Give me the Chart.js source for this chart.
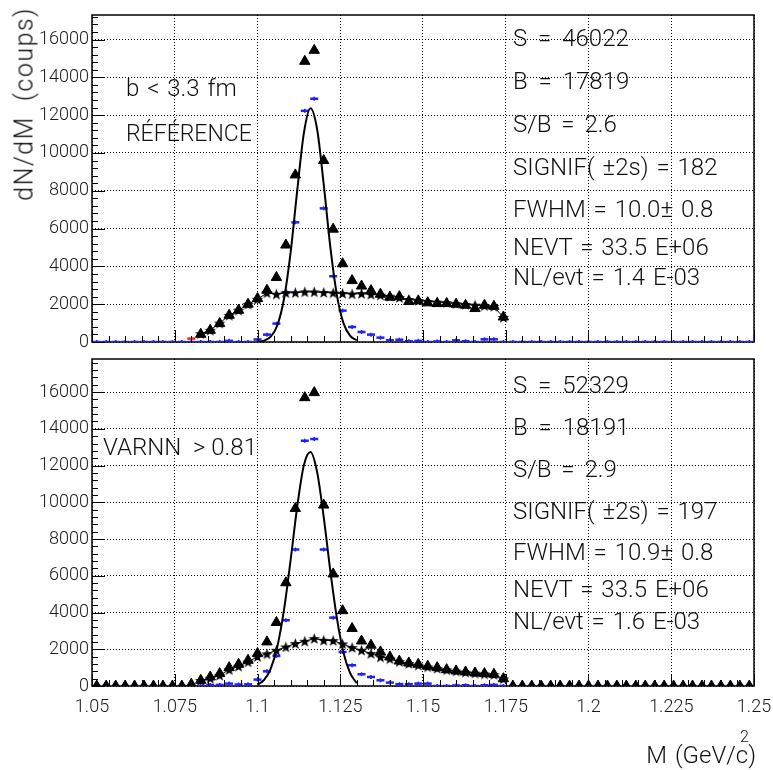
<!DOCTYPE html>
<html>
<head>
<meta charset="utf-8">
<script src="https://cdn.jsdelivr.net/npm/chart.js@4.4.1/dist/chart.umd.min.js"></script>
<style>
  body { margin: 0; background: #fff; }
  #fig { position: relative; width: 773px; height: 770px; overflow: hidden;
         font-family: Roboto, 'Liberation Sans', sans-serif; font-weight: 300; color: #111; }
  canvas { position: absolute; left: 0; }
  #c1 { top: 0; }
  #c2 { top: 352px; }
  .t { position: absolute; font-size: 24px; line-height: 24px; white-space: pre; word-spacing: 2px; }
  #ytitre { position: absolute; left: 24px; top: 104px; font-size: 25px; line-height: 25px;
            letter-spacing: 1.5px; white-space: pre; transform: translate(-50%, -50%) rotate(-90deg); }
</style>
</head>
<body>
<div id="fig">
  <canvas id="c1" width="773" height="352"></canvas>
  <canvas id="c2" width="773" height="418"></canvas>

  <div id="ytitre">dN/dM  (coups)</div>

  <div class="t" style="left:126px; top:76px">b &lt; 3.3 fm</div>
  <div class="t" style="left:126px; top:122px; font-size:23px">RÉFÉRENCE</div>
  <div class="t" style="left:513px; top:26px; word-spacing:5px">S = 46022</div>
  <div class="t" style="left:513px; top:69px; word-spacing:5px">B = 17819</div>
  <div class="t" style="left:513px; top:112px; word-spacing:4px">S/B = 2.6</div>
  <div class="t" style="left:513px; top:155px">SIGNIF( ±2s) = 182</div>
  <div class="t" style="left:513px; top:197px">FWHM = 10.0± 0.8</div>
  <div class="t" style="left:513px; top:235px">NEVT = 33.5 E+06</div>
  <div class="t" style="left:513px; top:265px">NL/evt = 1.4 E-03</div>

  <div class="t" style="left:103px; top:435px; word-spacing:0">VARNN  &gt; 0.81</div>
  <div class="t" style="left:513px; top:373px; word-spacing:5px">S = 52329</div>
  <div class="t" style="left:513px; top:415px; word-spacing:5px">B = 18191</div>
  <div class="t" style="left:513px; top:457px; word-spacing:4px">S/B = 2.9</div>
  <div class="t" style="left:513px; top:499px">SIGNIF( ±2s) = 197</div>
  <div class="t" style="left:513px; top:540px">FWHM = 10.9± 0.8</div>
  <div class="t" style="left:513px; top:577px">NEVT = 33.5 E+06</div>
  <div class="t" style="left:513px; top:609px">NL/evt = 1.6 E-03</div>

  <div class="t" style="right:17px; top:743px">M (GeV/c)</div>
  <div class="t" style="left:740px; top:729px; font-size:16px; line-height:16px">2</div>
</div>

<script>
// binning of the histograms: 70 bins between 1.05 and 1.25 GeV/c2
const xMin = 1.05, xMax = 1.25, nBins = 70;
const binWidth = (xMax - xMin) / nBins;
const binCentres = Array.from({length: nBins}, (_, i) => xMin + (i + 0.5) * binWidth);

const _ = null;

// panneau du haut (référence, b < 3.3 fm)
const totalHaut = [
  _, _, _, _, _, _, _, _, _, _,
  _, 410, 620, 975, 1415, 1680, 2000, 2300, 2740, 3415,
  5130, 8840, 14850, 15430, 9600, 5970, 4140, 3250, 2960, 2720,
  2530, 2370, 2400, 2140, 2175, 2070, 2035, 2035, 2000, 1945,
  1770, 1945, 1890, 1325, _, _, _, _, _, _,
  _, _, _, _, _, _, _, _, _, _,
  _, _, _, _, _, _, _, _, _, _
];
const fondHaut = [
  _, _, _, _, _, _, _, _, _, _,
  _, 440, 620, 1000, 1410, 1680, 2000, 2260, 2600, 2530,
  2600, 2610, 2650, 2650, 2620, 2600, 2570, 2540, 2560, 2520,
  2480, 2420, 2350, 2250, 2200, 2150, 2110, 2080, 2030, 1990,
  1950, 1920, 1880, 1300, _, _, _, _, _, _,
  _, _, _, _, _, _, _, _, _, _,
  _, _, _, _, _, _, _, _, _, _
];
const signalHaut = [
  0, 0, 0, 0, 0, 0, 0, 0, 0, 0,
  0, 0, 0, 0, 60, 0, 0, 130, 390, 975,
  2635, 6330, 12230, 12870, 7070, 3480, 1660, 795, 530, 390,
  230, 90, 120, 40, 60, 0, 30, 0, 90, 40,
  0, 140, 140, 0, 0, 0, 0, 0, 0, 0,
  0, 0, 0, 0, 0, 0, 0, 0, 0, 0,
  0, 0, 0, 0, 0, 0, 0, 0, 0, 0
];
const rougeHaut = [
  _, _, _, _, _, _, _, _, _, _,
  180, _, _, _, _, _, _, _, _, _,
  _, _, _, _, _, _, _, _, _, _,
  _, _, _, _, _, _, _, _, _, _,
  _, _, _, _, _, _, _, _, _, _,
  _, _, _, _, _, _, _, _, _, _,
  _, _, _, _, _, _, _, _, _, _
];

// panneau du bas (VARNN > 0.81)
const totalBas = [
  0, 0, 0, 0, 0, 0, 0, 0, 0, 0,
  100, 310, 490, 675, 1000, 1180, 1400, 1765, 2400, 3460,
  5620, 9665, 15695, 15970, 9850, 6100, 4100, 3130, 2450, 2220,
  1855, 1580, 1360, 1255, 1180, 1075, 1000, 890, 820, 765,
  710, 675, 640, 400, 0, 0, 0, 0, 0, 0,
  0, 0, 0, 0, 0, 0, 0, 0, 0, 0,
  0, 0, 0, 0, 0, 0, 0, 0, 0, 0
];
const fondBas = [
  _, _, _, _, _, _, _, _, _, _,
  _, 300, 420, 585, 890, 1075, 1310, 1600, 1750, 1945,
  2125, 2310, 2435, 2580, 2490, 2470, 2290, 2090, 1945, 1765,
  1580, 1480, 1330, 1220, 1130, 1040, 960, 880, 810, 750,
  700, 660, 620, 390, _, _, _, _, _, _,
  _, _, _, _, _, _, _, _, _, _,
  _, _, _, _, _, _, _, _, _, _
];
const signalBas = [
  0, 0, 0, 0, 0, 0, 0, 0, 0, 0,
  0, 0, 60, 60, 130, 80, 90, 350, 800, 1635,
  3580, 7430, 13350, 13445, 7430, 3720, 1855, 1130, 640, 490,
  310, 185, 100, 100, 130, 130, 0, 0, 30, 40,
  0, 40, 60, 0, 0, 0, 0, 0, 0, 0,
  0, 0, 0, 0, 0, 0, 0, 0, 0, 0,
  0, 0, 0, 0, 0, 0, 0, 0, 0, 0
];
const rougeBas = [
  _, _, _, _, _, _, _, _, _, _,
  _, 200, _, _, _, _, _, _, _, _,
  _, _, _, _, _, _, _, _, _, _,
  _, _, _, _, _, _, _, _, _, _,
  _, _, _, _, _, _, _, _, _, _,
  _, _, _, _, _, _, _, _, _, _,
  _, _, _, _, _, _, _, _, _, _
];

// courbes d'ajustement
const fitX = [1.100, 1.102, 1.104, 1.106, 1.108, 1.110, 1.112, 1.114,
              1.116, 1.118, 1.120, 1.122, 1.124, 1.126, 1.128, 1.130];
const fitHaut = [15, 73, 282, 888, 2273, 4731, 8013, 11040,
                 12370, 11270, 8350, 5030, 2470, 985, 320, 85];
const fitBas = [70, 330, 950, 2150, 4140, 6846, 9763, 12009,
                12741, 11658, 9202, 6264, 3678, 1800, 700, 150];

// graduations
const yTickVals = [0, 2000, 4000, 6000, 8000, 10000, 12000, 14000, 16000];
const yMinorStep = 400;
const xTicks = 0.025, xMinorTicks = 0.005;

function pts(vals) {
  return binCentres.map((x, i) => ({x: x, y: vals[i]})).filter(p => p.y !== null);
}

// marqueur étoile pleine
const etoile = document.createElement('canvas');
etoile.width = etoile.height = 13;
const ec = etoile.getContext('2d');
ec.beginPath();
for (let k = 0; k < 10; k++) {
  const r = k % 2 ? 2.4 : 6;
  const a = -Math.PI / 2 + k * Math.PI / 5;
  ec.lineTo(6.5 + r * Math.cos(a), 7 + r * Math.sin(a));
}
ec.closePath();
ec.fill();

// cadre du graphe
const cadre = {
  id: 'cadre',
  beforeDatasetsDraw(chart) {
    const {ctx, chartArea: a} = chart;
    ctx.save();
    ctx.strokeStyle = '#000';
    ctx.lineWidth = 1.5;
    ctx.strokeRect(a.left, a.top, a.right - a.left, a.bottom - a.top);
    ctx.restore();
  }
};

// petites graduations tournées vers l'intérieur, prises sur les échelles
const graduations = {
  id: 'graduations',
  afterDatasetsDraw(chart) {
    const {ctx, chartArea: a, scales} = chart;
    ctx.save();
    ctx.strokeStyle = '#000';
    ctx.lineWidth = 1;
    ctx.beginPath();
    [['x', 12], ['xm', 6]].forEach(([id, len]) => {
      scales[id].ticks.forEach(t => {
        const px = Math.round(scales[id].getPixelForValue(t.value)) + 0.5;
        ctx.moveTo(px, a.bottom);
        ctx.lineTo(px, a.bottom - len);
      });
    });
    [['y', 13], ['ym', 6]].forEach(([id, len]) => {
      scales[id].ticks.forEach(t => {
        const py = Math.round(scales[id].getPixelForValue(t.value)) + 0.5;
        ctx.moveTo(a.left, py);
        ctx.lineTo(a.left + len, py);
      });
    });
    ctx.stroke();
    ctx.restore();
  }
};

const tickFont = {family: 'Roboto', size: 18, weight: 300};

function panneau(id, p) {
  return new Chart(document.getElementById(id), {
    type: 'scatter',
    data: {
      datasets: [
        {data: fitX.map((x, i) => ({x: x, y: p.fit[i]})), showLine: true, pointRadius: 0,
         borderColor: '#000', borderWidth: 2, cubicInterpolationMode: 'monotone', order: 0},
        {data: pts(p.total), pointStyle: 'triangle', pointRadius: 6,
         backgroundColor: '#000', borderColor: '#000', borderWidth: 1, order: 1},
        {data: pts(p.fond), pointStyle: etoile, showLine: true,
         borderColor: '#000', borderWidth: 1, order: 2},
        {data: pts(p.signal), pointStyle: 'line', pointRadius: 4,
         borderColor: '#1f1fff', borderWidth: 2.5, order: 3},
        {data: pts(p.signal), pointStyle: 'line', rotation: 90, pointRadius: 2,
         borderColor: '#1f1fff', borderWidth: 1.5, order: 3},
        {data: pts(p.rouge), pointStyle: 'line', pointRadius: 4,
         borderColor: '#ff1f1f', borderWidth: 2.5, order: 4}
      ].map(d => Object.assign({clip: 0}, d))
    },
    options: {
      responsive: false,
      animation: false,
      devicePixelRatio: 1,
      events: [],
      layout: {padding: {left: 0, right: 19, top: p.padTop, bottom: p.padBottom}},
      plugins: {legend: {display: false}, tooltip: {enabled: false}},
      scales: {
        x: {
          type: 'linear', position: 'bottom', min: xMin, max: xMax, weight: 1,
          ticks: {stepSize: xTicks, includeBounds: false, display: p.xLabels, padding: 11,
                  maxRotation: 0, autoSkip: false, color: '#1a1a1a', font: tickFont,
                  callback: v => String(Math.round(v * 1000) / 1000)},
          grid: {z: 1, color: '#000', lineWidth: 1, drawTicks: false},
          border: {display: false, dash: [1, 2]},
          afterFit: s => { s.height = p.xAxisH; s.paddingLeft = 0; s.paddingRight = 0; }
        },
        xm: {
          type: 'linear', position: 'bottom', min: xMin, max: xMax, weight: 0,
          ticks: {stepSize: xMinorTicks, includeBounds: false, display: false},
          grid: {display: false},
          border: {display: false},
          afterFit: s => { s.height = 0; s.paddingLeft = 0; s.paddingRight = 0; }
        },
        y: {
          type: 'linear', position: 'left', min: 0, max: p.yMax, weight: 1,
          afterBuildTicks: s => { s.ticks = yTickVals.map(v => ({value: v})); },
          ticks: {padding: 3, color: '#1a1a1a', font: tickFont, callback: v => String(v)},
          grid: {z: 1, color: '#000', lineWidth: 1, drawTicks: false},
          border: {display: false, dash: [1, 2]},
          afterFit: s => { s.width = 92; s.paddingTop = 0; s.paddingBottom = 0; }
        },
        ym: {
          type: 'linear', position: 'left', min: 0, max: p.yMax, weight: 0,
          afterBuildTicks: s => {
            const t = [];
            for (let v = 0; v <= p.yMax; v += yMinorStep) t.push({value: v});
            s.ticks = t;
          },
          ticks: {display: false},
          grid: {display: false},
          border: {display: false},
          afterFit: s => { s.width = 0; s.paddingTop = 0; s.paddingBottom = 0; }
        }
      }
    },
    plugins: [cadre, graduations]
  });
}

panneau('c1', {total: totalHaut, fond: fondHaut, signal: signalHaut, rouge: rougeHaut, fit: fitHaut,
               yMax: 17300, padTop: 15, padBottom: 10, xAxisH: 0, xLabels: false});
panneau('c2', {total: totalBas, fond: fondBas, signal: signalBas, rouge: rougeBas, fit: fitBas,
               yMax: 17800, padTop: 7, padBottom: 54, xAxisH: 30, xLabels: true});
</script>
</body>
</html>
